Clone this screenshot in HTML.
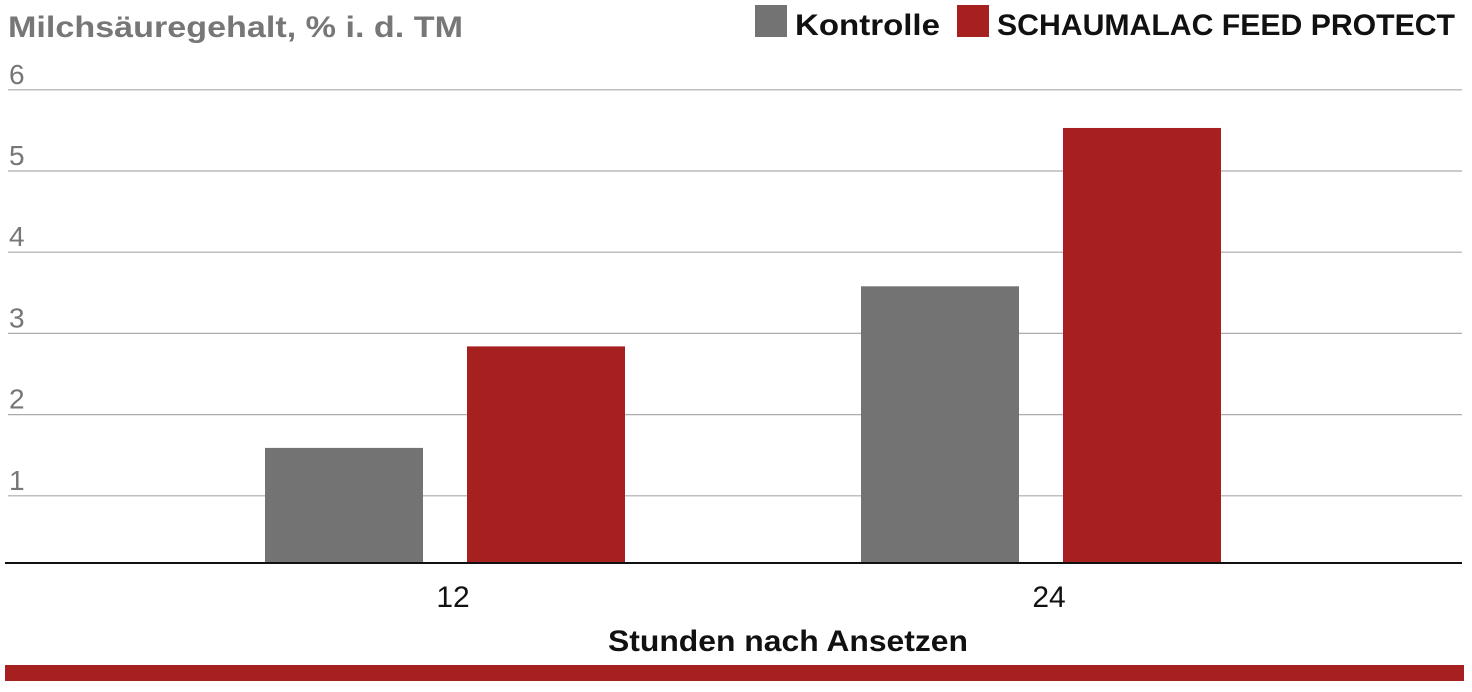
<!DOCTYPE html>
<html><head><meta charset="utf-8"><style>
html,body{margin:0;padding:0;background:#fff;}
svg{display:block;font-family:"Liberation Sans",sans-serif;}
</style></head><body>
<svg id="chart" width="1472" height="692" viewBox="0 0 1472 692">
<text x="8" y="37" font-size="30" font-weight="bold" fill="#777" textLength="455" lengthAdjust="spacingAndGlyphs">Milchsäuregehalt, % i. d. TM</text>
<g>
<rect x="755" y="5" width="32" height="32" fill="#737373"/>
<text x="795" y="35" font-size="30" font-weight="bold" fill="#111" textLength="145" lengthAdjust="spacingAndGlyphs">Kontrolle</text>
<rect x="957" y="5" width="32" height="32" fill="#a5201e"/>
<text x="997" y="35" font-size="30" font-weight="bold" fill="#111" textLength="458" lengthAdjust="spacingAndGlyphs">SCHAUMALAC FEED PROTECT</text>
</g>
<g id="grid"></g>
<g id="bars"></g>
<line x1="5" x2="1462" y1="563" y2="563" stroke="#111" stroke-width="2"/>
<g id="xlabels"></g>
<text x="788" y="651" font-size="30" font-weight="bold" fill="#111" text-anchor="middle" textLength="360" lengthAdjust="spacingAndGlyphs">Stunden nach Ansetzen</text>
<rect x="5" y="665" width="1459" height="16" fill="#a5201e"/>
</svg>
<script>
const categories = ["12", "24"];
const kontrolle = [1.59, 3.58];
const schaumalac = [2.84, 5.53];
const yTicks = [1, 2, 3, 4, 5, 6];
const NS = "http://www.w3.org/2000/svg";
function y(v){ return 577 - v * 81.2; }
function xCenter(i){ return 445 + i * 596; }
const base = 563;
const grid = document.getElementById("grid");
yTicks.forEach(t => {
  const l = document.createElementNS(NS, "line");
  
  
  l.setAttribute("x1", 8); l.setAttribute("x2", 1462);
  l.setAttribute("y1", y(t)); l.setAttribute("y2", y(t));
  l.setAttribute("stroke", "#aaa"); l.setAttribute("stroke-width", "1.2");
  grid.appendChild(l);
  const tx = document.createElementNS(NS, "text");
  
  
  tx.setAttribute("x", 9); tx.setAttribute("y", y(t) - 6);
  tx.setAttribute("font-size", "28"); tx.setAttribute("fill", "#777");
  tx.textContent = t;
  grid.appendChild(tx);
});
const bars = document.getElementById("bars");
const xl = document.getElementById("xlabels");
categories.forEach((c, i) => {
  const cx = xCenter(i);
  [[kontrolle[i], cx - 180, "#737373", "bar-kontrolle-" + c], [schaumalac[i], cx + 22, "#a5201e", "bar-schaumalac-" + c]].forEach(([v, x, col, nm]) => {
    const r = document.createElementNS(NS, "rect");
    
    
    r.setAttribute("x", x); r.setAttribute("width", 158);
    r.setAttribute("y", y(v)); r.setAttribute("height", base - y(v));
    r.setAttribute("fill", col);
    bars.appendChild(r);
  });
  const t = document.createElementNS(NS, "text");
  
  
  t.setAttribute("x", cx + 8); t.setAttribute("y", 607);
  t.setAttribute("font-size", "30"); t.setAttribute("fill", "#111");
  t.setAttribute("text-anchor", "middle");
  t.textContent = c;
  xl.appendChild(t);
});
</script>
</body></html>
